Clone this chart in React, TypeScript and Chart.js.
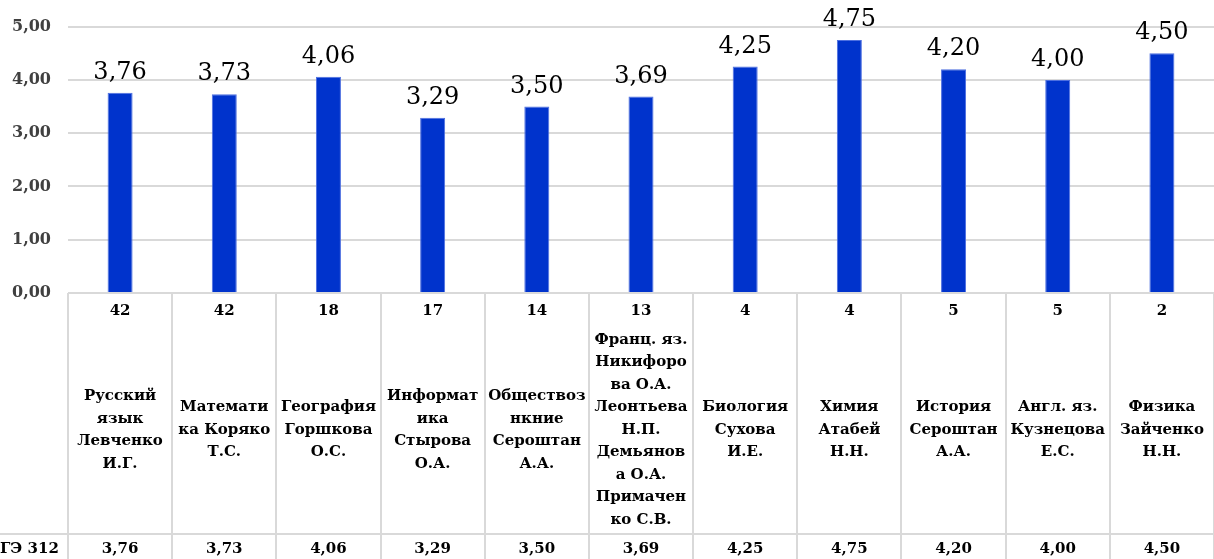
import React, { useEffect, useRef } from "react";
import { Chart, registerables } from "chart.js";

Chart.register(...registerables);

const seriesName = "ГЭ 312";
const counts = [42, 42, 18, 17, 14, 13, 4, 4, 5, 5, 2];
const subjects: string[][] = [
  ["Русский", "язык", "Левченко", "И.Г."],
  ["Математи", "ка Коряко", "Т.С."],
  ["География", "Горшкова", "О.С."],
  ["Информат", "ика", "Стырова", "О.А."],
  ["Обществоз", "нкние", "Сероштан", "А.А."],
  ["Франц. яз.", "Никифоро", "ва О.А.", "Леонтьева", "Н.П.", "Демьянов", "а О.А.", "Примачен", "ко С.В."],
  ["Биология", "Сухова", "И.Е."],
  ["Химия", "Атабей", "Н.Н."],
  ["История", "Сероштан", "А.А."],
  ["Англ. яз.", "Кузнецова", "Е.С."],
  ["Физика", "Зайченко", "Н.Н."],
];
const values = [3.76, 3.73, 4.06, 3.29, 3.5, 3.69, 4.25, 4.75, 4.2, 4.0, 4.5];
const yMin = 0;
const yMax = 5;
const yStep = 1;

const FONT = "'DejaVu Serif', serif";
const GRID = "#d9d9d9";

const fmt = (v: number) => v.toFixed(2).replace(".", ",");

const W = 1214;
const H = 559;

const tablePlugin = {
  id: "tablePlugin",
  afterDatasetsDraw(chart: any) {
    const ctx = chart.ctx;
    const meta = chart.getDatasetMeta(0);
    ctx.save();
    ctx.fillStyle = "#000000";
    ctx.font = `24px ${FONT}`;
    ctx.textAlign = "center";
    ctx.textBaseline = "bottom";
    meta.data.forEach((bar: any, i: number) => {
      ctx.fillText(fmt(values[i]), bar.x, bar.y - 8);
    });
    ctx.restore();
  },
  afterDraw(chart: any) {
    const ctx = chart.ctx;
    const area = chart.chartArea;
    const xs = chart.scales.x;
    const n = subjects.length;
    const step = (area.right - area.left) / n;
    const bottom = area.bottom;
    const rowY = bottom + 241;
    ctx.save();
    ctx.strokeStyle = GRID;
    ctx.lineWidth = 2;
    for (let i = 0; i <= n; i++) {
      const bx = Math.round(area.left + i * step);
      ctx.beginPath();
      ctx.moveTo(bx, bottom);
      ctx.lineTo(bx, H);
      ctx.stroke();
    }
    ctx.beginPath();
    ctx.moveTo(area.left, bottom);
    ctx.lineTo(W, bottom);
    ctx.stroke();
    ctx.beginPath();
    ctx.moveTo(0, rowY);
    ctx.lineTo(W, rowY);
    ctx.stroke();

    ctx.fillStyle = "#000000";
    ctx.textAlign = "center";
    ctx.textBaseline = "middle";
    ctx.font = `bold 15px ${FONT}`;
    const lineH = 22.5;
    const nameCenter = bottom + 137;
    for (let i = 0; i < n; i++) {
      const cx = xs.getPixelForValue(i);
      ctx.fillText(String(counts[i]), cx, bottom + 18);
      const lines = subjects[i];
      const y0 = nameCenter - ((lines.length - 1) * lineH) / 2;
      lines.forEach((ln, k) => ctx.fillText(ln, cx, y0 + k * lineH));
      ctx.fillText(fmt(values[i]), cx, rowY + 15);
    }
    ctx.textAlign = "left";
    ctx.fillText(seriesName, 0, rowY + 15);
    ctx.restore();
  },
};

export default function App() {
  const ref = useRef<HTMLCanvasElement | null>(null);
  useEffect(() => {
    document.body.style.margin = "0";
    if (!ref.current) return;
    const chart = new Chart(ref.current, {
      type: "bar",
      data: {
        labels: subjects.map((s) => s.join(" ")),
        datasets: [
          {
            label: seriesName,
            data: values,
            backgroundColor: "#0033cc",
            borderColor: "#4d6fe0",
            borderWidth: 1,
            categoryPercentage: 1,
            barPercentage: 0.24,
          },
        ],
      },
      options: {
        animation: false,
        responsive: true,
        maintainAspectRatio: false,
        layout: { padding: { top: 25, right: 0, left: 0, bottom: 0 } },
        plugins: {
          legend: { display: false },
          tooltip: { enabled: false },
        },
        scales: {
          x: {
            grid: { display: false },
            border: { display: false },
            ticks: { display: false },
            afterFit: (s: any) => {
              s.height = 266;
            },
          },
          y: {
            min: yMin,
            max: yMax,
            ticks: {
              stepSize: yStep,
              padding: 17,
              color: "#404040",
              font: { family: FONT, size: 16, weight: "bold" },
              callback: (v: any) => fmt(Number(v)),
            },
            grid: { color: GRID, lineWidth: 2, drawTicks: false },
            border: { display: false },
            afterFit: (s: any) => {
              s.width = 68;
            },
          },
        },
      },
      plugins: [tablePlugin],
    });
    return () => chart.destroy();
  }, []);
  return (
    <div style={{ width: W, height: H, position: "relative" }}>
      <canvas ref={ref} />
    </div>
  );
}
